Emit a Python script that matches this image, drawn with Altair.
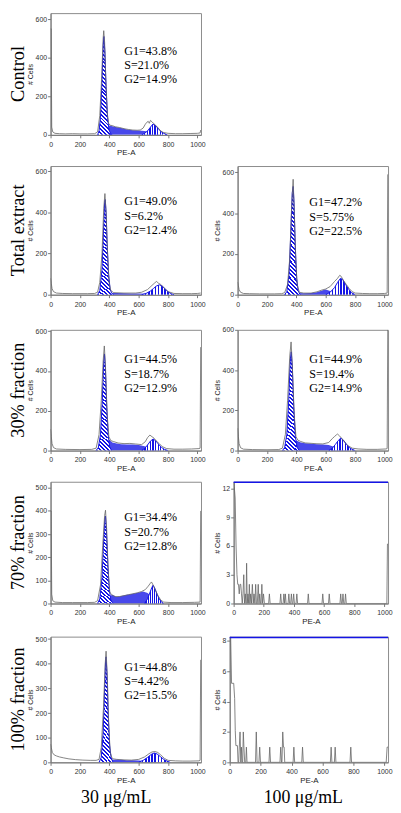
import altair as alt
import pandas as pd

# ------------------------------------------------------------------ data
ROW_LABELS = ["Control", "Total extract", "30% fraction", "70% fraction", "100% fraction"]
DOSE_LABELS = ["30 \u03bcg/mL", "100 \u03bcg/mL"]
X_TICKS = [0, 200, 400, 600, 800, 1000]

# phase percentages printed on each histogram
PCT_CONTROL = ["G1=43.8%", "S=21.0%", "G2=14.9%"]
PCT_TE30 = ["G1=49.0%", "S=6.2%", "G2=12.4%"]
PCT_TE100 = ["G1=47.2%", "S=5.75%", "G2=22.5%"]
PCT_F30_30 = ["G1=44.5%", "S=18.7%", "G2=12.9%"]
PCT_F30_100 = ["G1=44.9%", "S=19.4%", "G2=14.9%"]
PCT_F70_30 = ["G1=34.4%", "S=20.7%", "G2=12.8%"]
PCT_F100_30 = ["G1=44.8%", "S=4.42%", "G2=15.5%"]

# (PE-A channel, # cells)
RAW_CONTROL = [(0, 550), (4, 550), (8, 40), (15, 15), (30, 8), (60, 6), (100, 5), (150, 6), (200, 5), (250, 5),
               (300, 6), (320, 15), (335, 100), (348, 300), (358, 500), (362, 540), (368, 480), (375, 300),
               (385, 120), (395, 60), (405, 50), (420, 48), (440, 42), (470, 38), (500, 32), (530, 28), (560, 25),
               (590, 24), (610, 25), (630, 35), (645, 55), (655, 65), (665, 70), (672, 60), (680, 75), (690, 68),
               (700, 60), (715, 50), (730, 38), (750, 20), (770, 12), (800, 8), (850, 6), (900, 6), (950, 7),
               (1000, 8), (1018, 10), (1022, 25)]
G1_CONTROL = [(320, 0), (330, 20), (340, 90), (350, 280), (358, 460), (363, 510), (370, 430), (378, 250),
              (388, 90), (398, 25), (410, 5), (420, 0)]
S_CONTROL = [(365, 0), (378, 42), (400, 48), (420, 45), (450, 40), (480, 35), (520, 28), (560, 24), (600, 22),
             (640, 20), (680, 15), (720, 8), (760, 0)]
G2_CONTROL = [(620, 0), (640, 8), (660, 20), (680, 40), (697, 56), (712, 50), (730, 35), (750, 18), (770, 8),
              (795, 0)]

RAW_TE30 = [(0, 80), (5, 55), (10, 30), (20, 15), (40, 8), (80, 6), (150, 5), (250, 5), (300, 6), (320, 12),
            (335, 60), (350, 200), (362, 420), (370, 492), (378, 400), (388, 200), (398, 60), (410, 20), (430, 10),
            (500, 8), (580, 8), (620, 12), (660, 25), (690, 45), (710, 58), (722, 65), (735, 55), (750, 50),
            (770, 35), (800, 15), (840, 6), (900, 5), (960, 5), (1000, 6), (1022, 8)]
G1_TE30 = [(320, 0), (335, 20), (350, 120), (360, 300), (368, 450), (372, 463), (378, 400), (385, 250),
           (395, 100), (405, 30), (415, 8), (430, 0)]
S_TE30 = [(400, 0), (410, 8), (450, 8), (500, 7), (550, 6), (600, 6), (650, 5), (690, 3), (720, 0)]
G2_TE30 = [(620, 0), (650, 6), (680, 18), (700, 30), (720, 42), (740, 48), (760, 42), (780, 28), (800, 14),
           (820, 5), (840, 0)]

RAW_TE100 = [(0, 62), (5, 45), (10, 25), (20, 12), (40, 6), (80, 5), (150, 4), (250, 4), (300, 5), (320, 10),
             (340, 50), (355, 180), (367, 420), (378, 566), (386, 400), (395, 180), (405, 50), (420, 12), (450, 8),
             (500, 8), (540, 14), (570, 22), (600, 28), (630, 40), (660, 65), (680, 80), (695, 95), (705, 90),
             (720, 70), (740, 50), (760, 30), (780, 15), (800, 8), (850, 6), (900, 5), (950, 5), (1000, 6),
             (1018, 8), (1022, 590)]
G1_TE100 = [(320, 0), (335, 15), (350, 100), (362, 300), (372, 500), (378, 531), (384, 450), (392, 250),
            (402, 80), (412, 20), (425, 0)]
S_TE100 = [(395, 0), (410, 8), (450, 7), (500, 8), (540, 12), (580, 22), (600, 25), (620, 20), (650, 12),
           (680, 5), (700, 0)]
G2_TE100 = [(600, 0), (630, 12), (660, 35), (680, 60), (700, 80), (715, 75), (735, 50), (755, 28), (775, 10),
            (800, 0)]

RAW_F30_30 = [(0, 108), (5, 70), (10, 35), (20, 15), (40, 8), (100, 6), (200, 5), (280, 6), (310, 12), (330, 80),
              (345, 250), (358, 450), (366, 526), (374, 420), (385, 180), (397, 70), (410, 50), (430, 45),
              (460, 38), (500, 35), (540, 36), (580, 33), (620, 30), (645, 45), (660, 65), (676, 78), (690, 70),
              (705, 62), (720, 48), (740, 35), (760, 20), (790, 10), (840, 7), (900, 7), (960, 8), (1010, 10),
              (1018, 12), (1022, 520)]
G1_F30_30 = [(310, 0), (325, 15), (340, 80), (352, 250), (362, 450), (367, 486), (373, 420), (382, 230),
             (392, 80), (402, 20), (415, 0)]
S_F30_30 = [(370, 0), (385, 50), (400, 55), (420, 40), (450, 35), (480, 32), (520, 30), (560, 30), (600, 28),
            (640, 22), (680, 12), (720, 5), (750, 0)]
G2_F30_30 = [(620, 0), (640, 10), (660, 28), (680, 48), (698, 58), (715, 50), (735, 32), (755, 16), (775, 6),
             (800, 0)]

RAW_F30_100 = [(0, 111), (5, 70), (10, 35), (20, 14), (40, 7), (100, 5), (200, 4), (280, 5), (305, 12), (325, 80),
               (340, 250), (355, 470), (364, 540), (372, 430), (385, 180), (397, 70), (410, 52), (430, 45),
               (460, 38), (500, 36), (540, 34), (580, 33), (620, 40), (645, 60), (660, 70), (672, 78), (680, 82),
               (695, 72), (710, 60), (730, 40), (750, 25), (780, 12), (820, 8), (880, 6), (950, 6), (1010, 8),
               (1018, 10), (1022, 600)]
G1_F30_100 = [(305, 0), (320, 15), (335, 80), (348, 250), (358, 450), (365, 491), (372, 420), (382, 220),
              (393, 70), (405, 15), (420, 0)]
S_F30_100 = [(370, 0), (385, 52), (400, 50), (430, 40), (460, 36), (500, 34), (540, 32), (580, 30), (620, 28),
             (650, 20), (690, 10), (730, 4), (760, 0)]
G2_F30_100 = [(620, 0), (645, 12), (665, 30), (685, 50), (702, 62), (720, 52), (740, 32), (760, 15), (780, 6),
              (800, 0)]

RAW_F70_30 = [(0, 400), (4, 400), (8, 40), (15, 12), (30, 6), (80, 4), (150, 4), (250, 4), (300, 5), (320, 12),
              (340, 80), (355, 250), (368, 380), (374, 403), (382, 320), (392, 140), (403, 50), (415, 38),
              (440, 30), (470, 30), (500, 34), (530, 38), (560, 42), (590, 46), (620, 52), (645, 60), (665, 75),
              (680, 88), (687, 93), (698, 80), (712, 60), (730, 35), (750, 15), (770, 6), (820, 4), (900, 4),
              (980, 5), (1018, 6), (1022, 400)]
G1_F70_30 = [(320, 0), (335, 20), (350, 110), (362, 280), (370, 370), (374, 378), (380, 320), (390, 170),
             (400, 60), (410, 15), (425, 0)]
S_F70_30 = [(385, 0), (400, 30), (420, 38), (450, 28), (480, 32), (520, 38), (560, 42), (600, 48), (630, 52),
            (660, 45), (690, 30), (720, 12), (750, 0)]
G2_F70_30 = [(640, 0), (660, 20), (675, 45), (690, 70), (698, 79), (710, 65), (725, 40), (740, 20), (755, 6),
             (770, 0)]

RAW_F100_30 = [(0, 74), (5, 60), (12, 40), (25, 30), (40, 26), (60, 22), (90, 18), (125, 14), (170, 11),
               (220, 9), (270, 8), (310, 8), (330, 12), (345, 60), (360, 220), (372, 400), (378, 451), (386, 350),
               (396, 150), (406, 40), (420, 15), (450, 12), (500, 10), (550, 9), (600, 12), (640, 22), (670, 35),
               (690, 42), (710, 44), (730, 40), (750, 30), (775, 16), (800, 8), (850, 6), (900, 5), (950, 5),
               (1010, 6), (1018, 8), (1022, 416)]
G1_F100_30 = [(330, 0), (345, 20), (358, 120), (368, 300), (375, 420), (378, 428), (384, 360), (392, 200),
              (402, 70), (412, 20), (425, 0)]
S_F100_30 = [(400, 0), (420, 10), (450, 12), (480, 10), (520, 8), (560, 8), (600, 7), (640, 5), (680, 3),
             (720, 0)]
G2_F100_30 = [(600, 0), (630, 8), (660, 20), (685, 32), (705, 38), (725, 34), (750, 22), (775, 10), (800, 3),
              (815, 0)]

RAW_F70_100 = [(0, 12.7), (4, 12.2), (10, 11), (16, 6), (22, 3), (27, 2), (32, 2), (37, 1), (42, 2), (47, 2),
               (52, 1), (57, 0), (62, 1), (67, 3), (72, 0), (77, 1), (82, 0), (86, 4.2), (90, 0), (95, 1),
               (100, 0), (104, 2), (108, 0), (113, 1), (118, 0), (124, 2), (130, 0), (135, 1), (141, 0), (146, 2),
               (151, 0), (157, 0), (163, 2), (168, 0), (173, 1), (178, 0), (182, 0), (187, 2), (192, 0), (198, 1),
               (204, 0), (232, 0), (237, 1), (242, 0), (307, 0), (312, 1), (317, 0), (328, 0), (333, 1), (338, 0),
               (343, 1), (348, 0), (361, 0), (366, 1), (371, 0), (378, 0), (383, 1), (388, 0), (393, 0), (398, 1),
               (403, 0), (414, 0), (419, 1), (424, 0), (490, 0), (495, 1), (500, 0), (586, 0), (591, 1), (596, 0),
               (629, 0), (634, 1), (639, 0), (705, 0), (710, 1), (715, 0), (720, 0), (725, 1), (730, 0), (737, 0),
               (742, 1), (747, 0), (1016, 0), (1020, 6.2), (1024, 6.2)]
RAW_F100_100 = [(0, 8.4), (6, 8.4), (12, 5.2), (26, 5.2), (32, 4.2), (36, 2.1), (40, 1.1), (50, 1.1), (54, 0),
                (58, 0), (62, 1), (67, 2), (72, 0), (76, 1), (80, 0), (84, 0), (88, 2), (92, 1), (97, 0), (104, 0),
                (108, 1), (112, 0), (167, 0), (172, 2), (177, 0), (189, 0), (194, 1), (199, 0), (254, 0), (259, 1),
                (264, 0), (325, 0), (330, 1), (335, 0), (338, 0), (343, 2), (348, 1), (352, 1), (356, 0), (410, 0),
                (415, 1), (420, 0), (466, 0), (471, 1), (476, 0), (651, 0), (656, 1), (661, 0), (677, 0), (682, 1),
                (687, 0), (778, 0), (783, 1), (788, 0), (1012, 0), (1018, 1), (1024, 1)]
GATE_F70_100 = 12.65
GATE_F100_100 = 8.22

# ------------------------------------------------------------------ style
BLUE = "#1414e6"
RAW_GREY = "#666666"
SERIF = "Liberation Serif"
SANS = "Liberation Sans"


def stripes(n, frac, x1, y1, x2, y2):
    stops = []
    for i in range(n):
        a, b, c = i / n, (i + frac) / n, (i + 1) / n
        stops += [alt.GradientStop(color=BLUE, offset=a), alt.GradientStop(color=BLUE, offset=b),
                  alt.GradientStop(color="white", offset=b), alt.GradientStop(color="white", offset=c)]
    return alt.Gradient(gradient="linear", stops=stops, x1=x1, y1=y1, x2=x2, y2=y2)


G1_FILL = stripes(26, 0.5, 0, 1, 0.15, 0)
G2_FILL = stripes(10, 0.5, 0, 0, 1, 0)


def frame(pairs):
    return pd.DataFrame(pairs, columns=["x", "y"])


def panel(raw, ymax, yticks, w, h, g1=None, s=None, g2=None, pct=None, tx=74.5, ty=35.0,
          gate=None, title=None):
    xs = alt.Scale(domain=[0, 1024], nice=False, zero=False)
    ys = alt.Scale(domain=[0, ymax], nice=False)
    xax = alt.Axis(values=X_TICKS, title="PE-A", format="d")
    yax = alt.Axis(values=yticks, title="# Cells", format="d")

    def enc(ch):
        return ch.encode(x=alt.X("x:Q", scale=xs, axis=xax), y=alt.Y("y:Q", scale=ys, axis=yax))

    layers = []
    if s is not None:
        layers.append(enc(alt.Chart(frame(s)).mark_area(color=BLUE, opacity=0.78, clip=True)))
    if g1 is not None:
        layers.append(enc(alt.Chart(frame(g1)).mark_area(color=G1_FILL, clip=True)))
        layers.append(enc(alt.Chart(frame(g1)).mark_line(color=BLUE, strokeWidth=1, clip=True)))
    if g2 is not None:
        layers.append(enc(alt.Chart(frame(g2)).mark_area(color=G2_FILL, clip=True)))
        layers.append(enc(alt.Chart(frame(g2)).mark_line(color=BLUE, strokeWidth=1, clip=True)))
    layers.append(enc(alt.Chart(frame(raw)).mark_line(color=RAW_GREY, strokeWidth=0.8, clip=True)))
    if gate is not None:
        layers.append(alt.Chart(frame([(0, gate)])).mark_rule(color=BLUE, strokeWidth=1.5).encode(
            x=alt.X("x:Q", scale=xs, axis=xax), x2=alt.datum(1024), y=alt.Y("y:Q", scale=ys, axis=yax)))
    if pct is not None:
        for i, t in enumerate(pct):
            layers.append(alt.Chart(pd.DataFrame({"t": [t]})).mark_text(
                align="left", baseline="middle", font=SERIF, fontSize=12.2, color="black").encode(
                text="t:N", x=alt.value(tx), y=alt.value(ty + i * 14.5)))
    props = dict(width=w, height=h)
    if title is not None:
        props["title"] = alt.TitleParams(title, orient="left", anchor="middle", font=SERIF, fontSize=18.5,
                                         fontWeight="normal", color="black", offset=-1)
    return alt.layer(*layers).properties(**props)


YT6 = [0, 200, 400, 600]
YT5 = [0, 100, 200, 300, 400, 500]
WL = 152

p1 = panel(RAW_CONTROL, 631, YT6, WL, 123, G1_CONTROL, S_CONTROL, G2_CONTROL, PCT_CONTROL, ty=38,
           title=ROW_LABELS[0])
p2l = panel(RAW_TE30, 626, YT6, WL, 130, G1_TE30, S_TE30, G2_TE30, PCT_TE30, ty=35.6, title=ROW_LABELS[1])
p2r = panel(RAW_TE100, 631, YT6, 152, 130, G1_TE100, S_TE100, G2_TE100, PCT_TE100, tx=72.5, ty=36.6)
p3l = panel(RAW_F30_30, 607, YT6, WL, 122, G1_F30_30, S_F30_30, G2_F30_30, PCT_F30_30, ty=29.7,
            title=ROW_LABELS[2])
p3r = panel(RAW_F30_100, 600, YT6, 152, 122, G1_F30_100, S_F30_100, G2_F30_100, PCT_F30_100, tx=72.5, ty=30)
p4l = panel(RAW_F70_30, 526, YT5, WL, 123, G1_F70_30, S_F70_30, G2_F70_30, PCT_F70_30, ty=36,
            title=ROW_LABELS[3])
p4r = panel(RAW_F70_100, 12.7, [0, 3, 6, 9, 12], 156, 123, gate=GATE_F70_100)
p5l = panel(RAW_F100_30, 510, YT5, WL, 127, G1_F100_30, S_F100_30, G2_F100_30, PCT_F100_30, ty=30.3,
            title=ROW_LABELS[4])
p5r = panel(RAW_F100_100, 8.27, [0, 2, 4, 6, 8], 160, 127, gate=GATE_F100_100)


def dose(chart, text, dx):
    return alt.vconcat(chart, title=alt.TitleParams(text, orient="bottom", anchor="middle", font=SERIF,
                                                    fontSize=18, fontWeight="normal", color="black",
                                                    offset=5, dx=dx))


HS = 7
chart = alt.vconcat(
    p1,
    alt.hconcat(p2l, p2r, spacing=HS),
    alt.hconcat(p3l, p3r, spacing=HS),
    alt.hconcat(p4l, p4r, spacing=HS),
    alt.hconcat(dose(p5l, DOSE_LABELS[0], 9), dose(p5r, DOSE_LABELS[1], 0.5), spacing=HS),
    spacing=7.5,
).properties(
    padding=0
).configure_view(
    stroke="#8c8c8c", strokeWidth=1
).configure_axis(
    grid=False, labelFont=SANS, labelFontSize=7, labelColor="#333333", titleFont=SANS,
    titleFontWeight="normal", titleColor="#222222", tickSize=3, tickColor="#777777", domainColor="#777777",
    labelFlush=False, labelOverlap=False
).configure_axisX(
    labelPadding=2.5, titlePadding=1.5, titleFontSize=8
).configure_axisY(
    labelPadding=1, titlePadding=1.5, titleFontSize=7
)

chart.save("out.html", embed_options={"renderer": "svg", "actions": False})
